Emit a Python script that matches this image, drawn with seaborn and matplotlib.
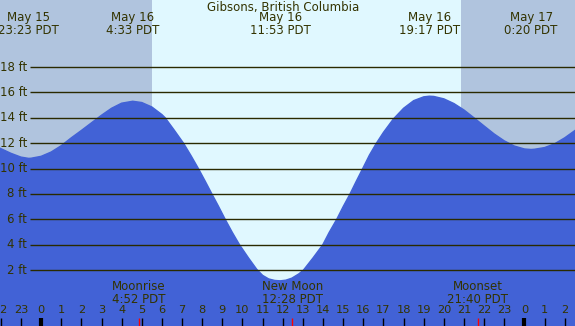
import matplotlib
matplotlib.use("Agg")
import matplotlib.pyplot as plt
import seaborn as sns
import pandas as pd

# tide heights (ft), hours from May 16 0:00
hours = [-2.04, -1.5, -1.0, -0.62, -0.5, 0, 0.5, 1, 1.5, 2, 2.5, 3, 3.5, 4, 4.55,
         5, 5.5, 6, 6.16, 6.6, 7.07, 7.45, 7.81, 8.15, 8.48, 8.8, 9.14, 9.5, 9.85, 10.3, 10.71,
         11.0, 11.3, 11.6, 11.87, 12.15, 12.45, 12.8, 13.03, 13.5, 13.99, 14.3, 14.68, 15.0,
         15.34, 15.65, 15.97, 16.3, 16.65, 17.0, 17.49, 18.0, 18.5, 19.0, 19.28,
         19.5, 20, 20.5, 21, 21.5, 22, 22.5, 23, 23.5, 24, 24.33, 24.5, 25, 25.5, 26, 26.51]
heights = [11.6, 11.2, 10.9, 10.8, 10.81, 10.96, 11.3, 11.8, 12.42, 13.0, 13.6, 14.2, 14.75, 15.15, 15.3,
           15.2, 14.85, 14.25, 14.0, 13.05, 12.0, 11.0, 10.0, 9.0, 8.0, 7.05, 6.0, 4.95, 4.0, 2.95, 2.05,
           1.58, 1.3, 1.18, 1.15, 1.2, 1.36, 1.7, 2.0, 2.95, 4.0, 4.95, 6.0, 7.0,
           8.0, 9.0, 10.0, 11.05, 12.0, 12.85, 13.9, 14.75, 15.35, 15.65, 15.7,
           15.68, 15.49, 15.12, 14.61, 13.99, 13.35, 12.72, 12.18, 11.77, 11.54, 11.5, 11.52, 11.65, 11.95, 12.42, 13.0]

# extremes shown at the top
ext_hours = [-0.62, 4.55, 11.88, 19.28, 24.33]
ext_labels = ["May 15\n23:23 PDT", "May 16\n4:33 PDT", "May 16\n11:53 PDT",
              "May 16\n19:17 PDT", "May 17\n0:20 PDT"]

# moon events shown at the bottom
moon_hours = [4.87, 12.47, 21.67]
moon_labels = ["Moonrise\n4:52 PDT", "New Moon\n12:28 PDT", "Moonset\n21:40 PDT"]

sunrise = 5.51
sunset = 20.85
grid_ft = [2, 4, 6, 8, 10, 12, 14, 16, 18]
tick_hours = list(range(-2, 27))

x0, x1 = -2.04, 26.51
y0, y1 = -2.41, 23.28
night = "#b0c4de"
day = "#e0f8ff"
blue = "#4262d6"
ink = "#333300"

df = pd.DataFrame({"hour": hours, "ft": heights})

fig = plt.figure(figsize=(5.75, 3.26), dpi=100)
ax = fig.add_axes([0, 0, 1, 1])
ax.set_xlim(x0, x1)
ax.set_ylim(y0, y1)
ax.axis("off")

ax.axvspan(x0, sunrise, color=night, lw=0)
ax.axvspan(sunrise, sunset, color=day, lw=0)
ax.axvspan(sunset, x1, color=night, lw=0)

sns.lineplot(data=df, x="hour", y="ft", ax=ax, color=blue, lw=1, sort=False, estimator=None)
ax.fill_between(df.hour, df.ft, y0, color=blue, lw=0)

xt = ax.get_xaxis_transform()
line_start = -0.546
for g in grid_ft:
    ax.hlines(g, line_start, x1, color="#2a2a00", lw=1)
    ax.text(-0.69, g, "%d ft" % g, ha="right", va="center", fontsize=8.5, color=ink)

ax.text(12.0, 1 - 8 / 326, "Gibsons, British Columbia", transform=xt, ha="center",
        va="center", fontsize=8.5, color=ink)
for h, lab in zip(ext_hours, ext_labels):
    ax.text(h, 1 - 24 / 326, lab, transform=xt, ha="center", va="center",
            fontsize=8.5, color=ink, linespacing=0.95)

for h in tick_hours:
    ax.text(h, 1 - 310 / 326, str(h % 24), transform=xt, ha="center", va="center",
            fontsize=8.2, color=ink)
    if h % 24 == 0:
        ax.vlines(h, 0, 8 / 326, transform=xt, color="black", lw=3)
    else:
        ax.vlines(h, 0, 8 / 326, transform=xt, color="black", lw=1)

for h, lab in zip(moon_hours, moon_labels):
    ax.vlines(h, 0, 8 / 326, transform=xt, color="red", lw=1)
    ax.text(h, 1 - 293 / 326, lab, transform=xt, ha="center", va="center",
            fontsize=8.5, color=ink, linespacing=0.95)

fig.savefig("out.png", dpi=100)
